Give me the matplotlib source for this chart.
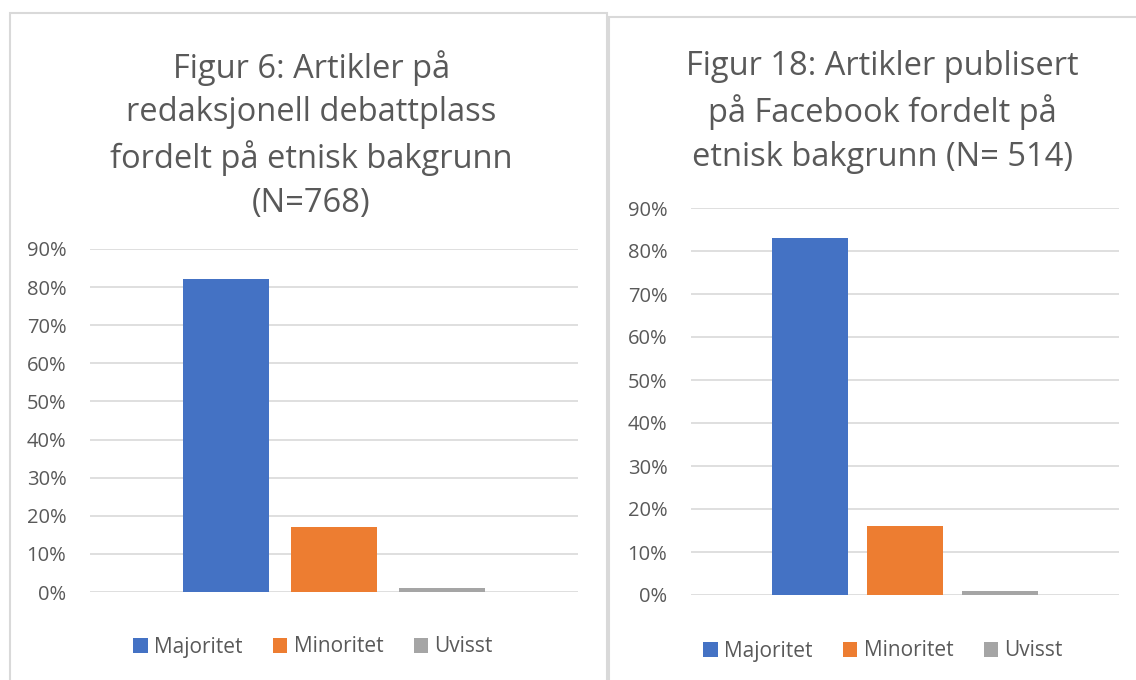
import matplotlib
matplotlib.use("Agg")
import matplotlib.pyplot as plt
from matplotlib.patches import Rectangle
from matplotlib.ticker import PercentFormatter

plt.rcParams['font.family'] = ['Open Sans', 'DejaVu Sans']

series = ["Majoritet", "Minoritet", "Uvisst"]
colors = ["#4472C4", "#ED7D31", "#A5A5A5"]
ticks = [0, 10, 20, 30, 40, 50, 60, 70, 80, 90]

left_title = "Figur 6: Artikler på\nredaksjonell debattplass\nfordelt på etnisk bakgrunn\n(N=768)"
left_values = [82, 17, 1]

right_title = "Figur 18: Artikler publisert\npå Facebook fordelt på\netnisk bakgrunn (N= 514)"
right_values = [83, 16, 1]

W, H = 1136, 680
txt = "#595959"
grid = "#D9D9D9"

fig = plt.figure(figsize=(W / 100, H / 100), dpi=100)


def px(x0, y0, x1, y1):
    # pixel box (top-left origin) -> figure fraction rect
    return [x0 / W, 1 - y1 / H, (x1 - x0) / W, (y1 - y0) / H]


# panel borders
for x0, y0, x1, y1 in [(9.5, 13, 607, 690), (609, 17, 1140, 690)]:
    r = px(x0, y0, x1, y1)
    fig.patches.append(Rectangle((r[0], r[1]), r[2], r[3], transform=fig.transFigure,
                                 fill=False, edgecolor="#D9D9D9", linewidth=1.5))


def panel(rect, values, title, title_xy, legend_xy):
    ax = fig.add_axes(rect)
    for i, (name, v) in enumerate(zip(series, values)):
        ax.bar(i, v, width=0.8, color=colors[i], label=name, zorder=3)
    ax.set_ylim(0, 90)
    ax.set_xlim(-1.26, 3.26)
    ax.set_yticks(ticks)
    ax.yaxis.set_major_formatter(PercentFormatter(decimals=0))
    ax.set_xticks([])
    ax.grid(axis="y", color=grid, linewidth=1.2, zorder=0)
    for s in ax.spines.values():
        s.set_visible(False)
    ax.tick_params(axis="y", length=0, pad=17, labelsize=14.5, labelcolor=txt)
    fig.text(title_xy[0] / W, 1 - title_xy[1] / H, title, ha="center", va="top",
             fontsize=23.5, color=txt, linespacing=1.41)
    handles, labels = ax.get_legend_handles_labels()
    fig.legend(handles, labels, loc="center", bbox_to_anchor=(legend_xy[0] / W, 1 - legend_xy[1] / H),
               ncol=3, frameon=False, fontsize=15, labelcolor=txt,
               handlelength=0.7, handleheight=0.7, handletextpad=0.3, columnspacing=1.45)
    return ax


panel(px(90, 249, 578, 592), left_values, left_title, (311.5, 50), (313, 647))
panel(px(691, 208, 1119, 595), right_values, right_title, (882, 50), (883, 651))

fig.savefig("out.png", dpi=100)
